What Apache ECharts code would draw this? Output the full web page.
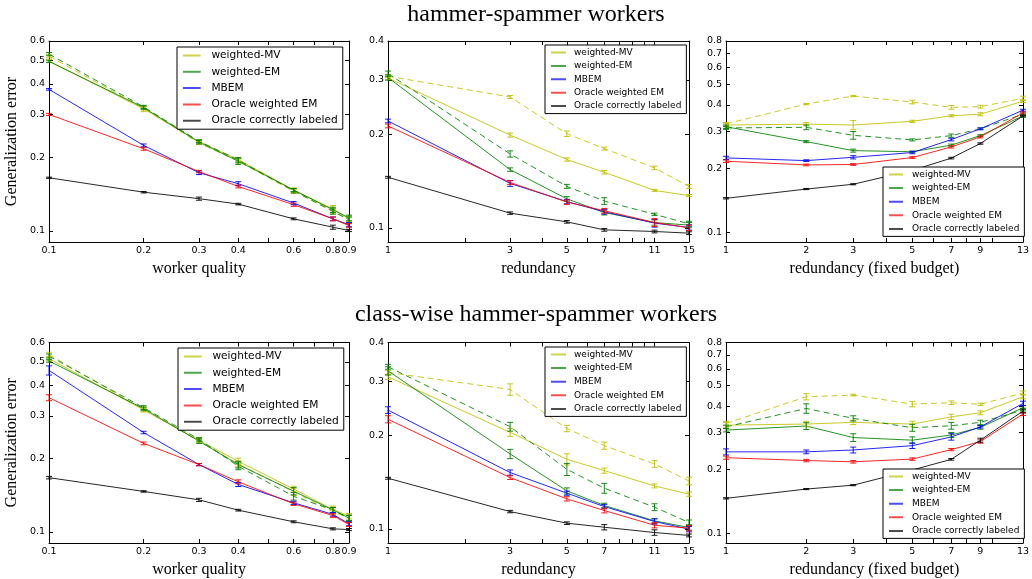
<!DOCTYPE html>
<html>
<head>
<meta charset="utf-8">
<script src="https://cdn.jsdelivr.net/npm/echarts@6/dist/echarts.min.js"></script>
<style>
html,body{margin:0;padding:0;background:#fff;}
#chart{width:1032px;height:579px;}
</style>
</head>
<body>
<div id="chart"></div>
<script>
// ---------------- categories / ticks ----------------
const xQuality = [0.1, 0.2, 0.3, 0.4, 0.6, 0.8, 0.9];
const xRedundancy = [1, 3, 5, 7, 11, 15];
const xBudget = [1, 2, 3, 5, 7, 9, 13];

const xTicksQuality = [0.1, 0.2, 0.3, 0.4, 0.5, 0.6, 0.7, 0.8, 0.9];
const xTicksRedundancy = [1, 2, 3, 4, 5, 6, 7, 8, 9, 10, 11, 15];
const xTicksBudget = [1, 2, 3, 4, 5, 6, 7, 8, 9, 10, 13];

const yLabelsQuality = [0.1, 0.2, 0.3, 0.4, 0.5, 0.6];
const yLabelsRedundancy = [0.1, 0.2, 0.3, 0.4];
const yLabelsBudget = [0.1, 0.2, 0.3, 0.4, 0.5, 0.6, 0.7, 0.8];

const legendNames = ['weighted-MV', 'weighted-EM', 'MBEM', 'Oracle weighted EM', 'Oracle correctly labeled'];
const rowTitles = ['hammer-spammer workers', 'class-wise hammer-spammer workers'];
const xAxisNames = ['worker quality', 'redundancy', 'redundancy (fixed budget)'];
const yAxisName = 'Generalization error';

// ---------------- hammer-spammer, worker quality ----------------
const hq_mv      = [0.497, 0.316, 0.232, 0.196, 0.147, 0.123, 0.112];
const hq_mv_err  = [0.006, 0.008, 0.004, 0.004, 0.003, 0.004, 0.003];
const hq_mvD     = [0.520, 0.318, 0.229, 0.193, 0.145, 0.121, 0.111];
const hq_mvD_err = [0.008, 0.005, 0.003, 0.004, 0.003, 0.003, 0.003];
const hq_em      = [0.495, 0.320, 0.231, 0.193, 0.147, 0.122, 0.113];
const hq_em_err  = [0.005, 0.005, 0.004, 0.006, 0.002, 0.003, 0.003];
const hq_emD     = [0.530, 0.322, 0.233, 0.195, 0.146, 0.120, 0.111];
const hq_emD_err = [0.008, 0.005, 0.003, 0.004, 0.003, 0.003, 0.003];
const hq_mbem    = [0.380, 0.224, 0.173, 0.156, 0.130, 0.112, 0.106];
const hq_mbem_err= [0.003, 0.003, 0.003, 0.003, 0.002, 0.002, 0.002];
const hq_owem    = [0.300, 0.217, 0.175, 0.152, 0.128, 0.112, 0.105];
const hq_owem_err= [0.003, 0.003, 0.002, 0.002, 0.002, 0.002, 0.002];
const hq_occ     = [0.165, 0.144, 0.1355, 0.1287, 0.112, 0.1035, 0.1003];
const hq_occ_err = [0.001, 0.001, 0.002, 0.001, 0.001, 0.002, 0.001];
const hq_base = 0.0936;

// ---------------- hammer-spammer, redundancy ----------------
const hr_mv      = [0.304, 0.199, 0.166, 0.151, 0.132, 0.127];
const hr_mv_err  = [0.003, 0.003, 0.002, 0.002, 0.001, 0.001];
const hr_mvD     = [0.308, 0.264, 0.201, 0.180, 0.156, 0.136];
const hr_mvD_err = [0.003, 0.003, 0.004, 0.002, 0.002, 0.002];
const hr_em      = [0.305, 0.154, 0.124, 0.112, 0.104, 0.102];
const hr_em_err  = [0.006, 0.002, 0.002, 0.002, 0.002, 0.002];
const hr_emD     = [0.314, 0.173, 0.136, 0.122, 0.1105, 0.103];
const hr_emD_err = [0.006, 0.004, 0.002, 0.003, 0.001, 0.002];
const hr_mbem    = [0.221, 0.139, 0.1215, 0.1127, 0.1035, 0.1003];
const hr_mbem_err= [0.003, 0.003, 0.002, 0.002, 0.003, 0.002];
const hr_owem    = [0.213, 0.140, 0.121, 0.1135, 0.104, 0.100];
const hr_owem_err= [0.003, 0.002, 0.002, 0.002, 0.003, 0.002];
const hr_occ     = [0.1455, 0.1115, 0.1045, 0.0985, 0.0973, 0.0961];
const hr_occ_err = [0.001, 0.001, 0.001, 0.001, 0.001, 0.001];
const hr_base = 0.0937;

// ---------------- hammer-spammer, fixed budget ----------------
const hb_mv      = [0.321, 0.324, 0.321, 0.334, 0.355, 0.361, 0.416];
const hb_mv_err  = [0.006, 0.006, 0.016, 0.004, 0.004, 0.006, 0.006];
const hb_mvD     = [0.325, 0.403, 0.440, 0.412, 0.389, 0.392, 0.429];
const hb_mvD_err = [0.005, 0.003, 0.003, 0.008, 0.008, 0.006, 0.010];
const hb_em      = [0.315, 0.268, 0.243, 0.240, 0.258, 0.286, 0.354];
const hb_em_err  = [0.006, 0.003, 0.004, 0.002, 0.003, 0.003, 0.005];
const hb_emD     = [0.311, 0.313, 0.287, 0.273, 0.286, 0.308, 0.361];
const hb_emD_err = [0.005, 0.008, 0.012, 0.003, 0.005, 0.003, 0.005];
const hb_mbem    = [0.2245, 0.218, 0.226, 0.238, 0.274, 0.308, 0.377];
const hb_mbem_err= [0.004, 0.002, 0.004, 0.003, 0.004, 0.003, 0.004];
const hb_owem    = [0.2165, 0.208, 0.209, 0.2254, 0.253, 0.282, 0.366];
const hb_owem_err= [0.003, 0.002, 0.002, 0.002, 0.003, 0.003, 0.004];
const hb_occ     = [0.1447, 0.160, 0.1686, 0.196, 0.224, 0.2625, 0.354];
const hb_occ_err = [0.001, 0.001, 0.001, 0.001, 0.002, 0.002, 0.003];
const hb_base = 0.094;

// ---------------- class-wise, worker quality ----------------
const cq_mv      = [0.515, 0.317, 0.2377, 0.195, 0.150, 0.1236, 0.116];
const cq_mv_err  = [0.010, 0.006, 0.004, 0.006, 0.004, 0.004, 0.003];
const cq_mvD     = [0.535, 0.318, 0.236, 0.190, 0.146, 0.121, 0.114];
const cq_mvD_err = [0.012, 0.006, 0.004, 0.005, 0.005, 0.003, 0.003];
const cq_em      = [0.504, 0.321, 0.236, 0.189, 0.147, 0.123, 0.114];
const cq_em_err  = [0.006, 0.005, 0.005, 0.006, 0.005, 0.003, 0.003];
const cq_emD     = [0.528, 0.324, 0.240, 0.186, 0.140, 0.123, 0.114];
const cq_emD_err = [0.010, 0.006, 0.004, 0.006, 0.005, 0.003, 0.003];
const cq_mbem    = [0.461, 0.256, 0.189, 0.1566, 0.1316, 0.118, 0.108];
const cq_mbem_err= [0.020, 0.003, 0.002, 0.003, 0.002, 0.002, 0.002];
const cq_owem    = [0.356, 0.231, 0.189, 0.1606, 0.1304, 0.1167, 0.1072];
const cq_owem_err= [0.010, 0.003, 0.002, 0.003, 0.002, 0.002, 0.002];
const cq_occ     = [0.167, 0.1466, 0.1354, 0.1228, 0.110, 0.1029, 0.1022];
const cq_occ_err = [0.002, 0.001, 0.002, 0.001, 0.001, 0.001, 0.001];
const cq_base = 0.0942;

// ---------------- class-wise, redundancy ----------------
const cr_mv      = [0.310, 0.205, 0.1678, 0.1542, 0.1376, 0.1294];
const cr_mv_err  = [0.006, 0.006, 0.007, 0.003, 0.002, 0.002];
const cr_mvD     = [0.320, 0.282, 0.211, 0.1857, 0.162, 0.1428];
const cr_mvD_err = [0.005, 0.012, 0.005, 0.005, 0.004, 0.004];
const cr_em      = [0.324, 0.1746, 0.1326, 0.119, 0.1061, 0.101];
const cr_em_err  = [0.010, 0.006, 0.003, 0.002, 0.002, 0.002];
const cr_emD     = [0.334, 0.2138, 0.1557, 0.1353, 0.1175, 0.1048];
const cr_emD_err = [0.006, 0.007, 0.007, 0.005, 0.003, 0.002];
const cr_mbem    = [0.242, 0.152, 0.1304, 0.118, 0.1056, 0.0998];
const cr_mbem_err= [0.006, 0.003, 0.002, 0.002, 0.002, 0.002];
const cr_owem    = [0.226, 0.1464, 0.125, 0.1146, 0.1027, 0.1005];
const cr_owem_err= [0.006, 0.002, 0.002, 0.002, 0.002, 0.002];
const cr_occ     = [0.1457, 0.1137, 0.1043, 0.1012, 0.0973, 0.0952];
const cr_occ_err = [0.001, 0.001, 0.001, 0.002, 0.002, 0.001];
const cr_base = 0.0938;

// ---------------- class-wise, fixed budget ----------------
const cb_mv      = [0.325, 0.329, 0.335, 0.329, 0.356, 0.372, 0.443];
const cb_mv_err  = [0.010, 0.010, 0.008, 0.010, 0.010, 0.008, 0.010];
const cb_mvD     = [0.331, 0.443, 0.451, 0.409, 0.415, 0.408, 0.462];
const cb_mvD_err = [0.008, 0.015, 0.004, 0.012, 0.008, 0.005, 0.010];
const cb_em      = [0.308, 0.322, 0.284, 0.276, 0.292, 0.317, 0.393];
const cb_em_err  = [0.006, 0.012, 0.012, 0.010, 0.008, 0.006, 0.010];
const cb_emD     = [0.319, 0.390, 0.350, 0.316, 0.323, 0.335, 0.383];
const cb_emD_err = [0.006, 0.020, 0.010, 0.012, 0.012, 0.008, 0.008];
const cb_mbem    = [0.243, 0.243, 0.248, 0.260, 0.286, 0.319, 0.412];
const cb_mbem_err= [0.008, 0.005, 0.008, 0.008, 0.010, 0.004, 0.010];
const cb_owem    = [0.228, 0.221, 0.218, 0.2246, 0.249, 0.272, 0.367];
const cb_owem_err= [0.004, 0.003, 0.003, 0.003, 0.003, 0.005, 0.006];
const cb_occ     = [0.1464, 0.162, 0.169, 0.1993, 0.224, 0.276, 0.379];
const cb_occ_err = [0.001, 0.001, 0.001, 0.001, 0.002, 0.006, 0.008];
const cb_base = 0.094;

// ---------------- panel assembly ----------------
const panels = [
  {x: xQuality, d: {mv:[hq_mv,hq_mv_err], mvD:[hq_mvD,hq_mvD_err], em:[hq_em,hq_em_err], emD:[hq_emD,hq_emD_err], mbem:[hq_mbem,hq_mbem_err], owem:[hq_owem,hq_owem_err], occ:[hq_occ,hq_occ_err]}, base: hq_base},
  {x: xRedundancy, d: {mv:[hr_mv,hr_mv_err], mvD:[hr_mvD,hr_mvD_err], em:[hr_em,hr_em_err], emD:[hr_emD,hr_emD_err], mbem:[hr_mbem,hr_mbem_err], owem:[hr_owem,hr_owem_err], occ:[hr_occ,hr_occ_err]}, base: hr_base},
  {x: xBudget, d: {mv:[hb_mv,hb_mv_err], mvD:[hb_mvD,hb_mvD_err], em:[hb_em,hb_em_err], emD:[hb_emD,hb_emD_err], mbem:[hb_mbem,hb_mbem_err], owem:[hb_owem,hb_owem_err], occ:[hb_occ,hb_occ_err]}, base: hb_base},
  {x: xQuality, d: {mv:[cq_mv,cq_mv_err], mvD:[cq_mvD,cq_mvD_err], em:[cq_em,cq_em_err], emD:[cq_emD,cq_emD_err], mbem:[cq_mbem,cq_mbem_err], owem:[cq_owem,cq_owem_err], occ:[cq_occ,cq_occ_err]}, base: cq_base},
  {x: xRedundancy, d: {mv:[cr_mv,cr_mv_err], mvD:[cr_mvD,cr_mvD_err], em:[cr_em,cr_em_err], emD:[cr_emD,cr_emD_err], mbem:[cr_mbem,cr_mbem_err], owem:[cr_owem,cr_owem_err], occ:[cr_occ,cr_occ_err]}, base: cr_base},
  {x: xBudget, d: {mv:[cb_mv,cb_mv_err], mvD:[cb_mvD,cb_mvD_err], em:[cb_em,cb_em_err], emD:[cb_emD,cb_emD_err], mbem:[cb_mbem,cb_mbem_err], owem:[cb_owem,cb_owem_err], occ:[cb_occ,cb_occ_err]}, base: cb_base}
];

// column settings (layout / style)
const colCfg = [
  {left: 49, width: 300, xmin: 0.1, xmax: 0.9, ymax: 0.6, xTicks: xTicksQuality, xLabels: xQuality, yLabels: yLabelsQuality},
  {left: 388, width: 301, xmin: 1, xmax: 15, ymax: 0.4, xTicks: xTicksRedundancy, xLabels: xRedundancy, yLabels: yLabelsRedundancy},
  {left: 726, width: 302, xmin: 1, xmax: 13, ymax: 0.8, xTicks: xTicksBudget, xLabels: xBudget, yLabels: yLabelsBudget}
];
const rowCfg = [{top: 41, height: 201}, {top: 342.5, height: 200.5}];
const YMIN = 0.09;

const lineDefs = [
  {key: 'mv',   name: 'weighted-MV',              color: '#bfbf00', dash: false},
  {key: 'mvD',  name: 'weighted-MV (no model)',   color: '#bfbf00', dash: true},
  {key: 'em',   name: 'weighted-EM',              color: '#008000', dash: false},
  {key: 'emD',  name: 'weighted-EM (no model)',   color: '#008000', dash: true},
  {key: 'mbem', name: 'MBEM',                     color: '#0000ff', dash: false},
  {key: 'owem', name: 'Oracle weighted EM',       color: '#ff0000', dash: false},
  {key: 'occ',  name: 'Oracle correctly labeled', color: '#000000', dash: false}
];

const legendCfg = [
  {left: 177, top: 47, fs: 10.6, gap: 5.3, icon: 'path://M0,0H17.7V2H0ZM23.4,0V2Z', iw: 23.4},
  {left: 545, top: 45, fs: 9, gap: 4.4, icon: 'path://M0,0H15V2H0ZM18,0V2Z', iw: 18},
  {left: 883, top: 167, fs: 9, gap: 4.6, icon: 'path://M0,0H14V2H0ZM18,0V2Z', iw: 18},
  {left: 178, top: 348, fs: 10.6, gap: 5.3, icon: 'path://M0,0H17.7V2H0ZM23.4,0V2Z', iw: 23.4},
  {left: 545, top: 347, fs: 9, gap: 4.6, icon: 'path://M0,0H15V2H0ZM18,0V2Z', iw: 18},
  {left: 883, top: 469, fs: 9, gap: 4.6, icon: 'path://M0,0H14V2H0ZM18,0V2Z', iw: 18}
];

function fmt(v) { return String(+Number(v).toPrecision(2)); }

function renderErr(params, api) {
  const x = api.value(0), lo = api.value(1), hi = api.value(2);
  const a = api.coord([x, lo]), b = api.coord([x, hi]);
  const st = {stroke: api.visual('color'), lineWidth: 1, opacity: 0.9};
  const cw = 3;
  return {type: 'group', children: [
    {type: 'line', shape: {x1: a[0], y1: a[1], x2: b[0], y2: b[1]}, style: st},
    {type: 'line', shape: {x1: a[0] - cw, y1: a[1], x2: a[0] + cw, y2: a[1]}, style: st},
    {type: 'line', shape: {x1: b[0] - cw, y1: b[1], x2: b[0] + cw, y2: b[1]}, style: st}
  ]};
}

const grids = [], xAxes = [], yAxes = [], series = [], legends = [];
const axisLineStyle = {color: '#000', width: 1};
const tickFont = {fontFamily: 'DejaVu Sans', fontSize: 9.5, color: '#000'};
const nameFont = {fontFamily: 'Liberation Serif', fontSize: 16, color: '#000'};

panels.forEach((p, i) => {
  const r = Math.floor(i / 3), c = i % 3;
  const cc = colCfg[c], rc = rowCfg[r];
  grids.push({left: cc.left, top: rc.top, width: cc.width, height: rc.height, show: false});
  const xBase = {
    gridIndex: i, type: 'log', logBase: 10, min: cc.xmin, max: cc.xmax,
    axisLine: {show: true, onZero: false, lineStyle: axisLineStyle},
    axisTick: {show: true, inside: true, length: 4, customValues: cc.xTicks, lineStyle: axisLineStyle},
    splitLine: {show: false}, minorTick: {show: false}, minorSplitLine: {show: false}
  };
  xAxes.push(Object.assign({}, xBase, {
    position: 'bottom',
    axisLabel: Object.assign({show: true, margin: 4, customValues: cc.xLabels, formatter: fmt}, tickFont),
    name: xAxisNames[c], nameLocation: 'middle', nameGap: 19, nameTextStyle: nameFont
  }));
  xAxes.push(Object.assign({}, xBase, {position: 'top', axisLabel: {show: false}}));
  const yBase = {
    gridIndex: i, type: 'log', logBase: 10, min: YMIN, max: cc.ymax,
    axisLine: {show: true, onZero: false, lineStyle: axisLineStyle},
    axisTick: {show: true, inside: true, length: 4, customValues: cc.yLabels, lineStyle: axisLineStyle},
    splitLine: {show: false}, minorTick: {show: false}, minorSplitLine: {show: false}
  };
  const yMain = Object.assign({}, yBase, {
    position: 'left',
    axisLabel: Object.assign({show: true, margin: 4, customValues: cc.yLabels, formatter: fmt}, tickFont)
  });
  if (c === 0) {
    Object.assign(yMain, {name: yAxisName, nameLocation: 'middle', nameGap: 29, nameRotate: 90, nameTextStyle: nameFont});
  }
  yAxes.push(yMain);
  yAxes.push(Object.assign({}, yBase, {position: 'right', axisLabel: {show: false}}));

  lineDefs.forEach(ld => {
    const [m, e] = p.d[ld.key];
    const s = {
      type: 'line', name: ld.name, xAxisIndex: 2 * i, yAxisIndex: 2 * i,
      data: p.x.map((x, k) => [x, m[k]]),
      symbol: 'none', showSymbol: false, smooth: false,
      itemStyle: {color: ld.color},
      lineStyle: {color: ld.color, width: 1, opacity: 0.85, type: ld.dash ? [6, 4] : 'solid'},
      emphasis: {disabled: true}, silent: true, z: 2
    };
    if (ld.key === 'occ') {
      s.markLine = {
        silent: true, symbol: ['none', 'none'], label: {show: false}, animation: false,
        lineStyle: {color: '#000', width: 1, type: [4.5, 2.5, 1.2, 2.5], opacity: 0.9},
        emphasis: {disabled: true},
        data: [{yAxis: p.base}]
      };
    }
    series.push(s);
    series.push({
      type: 'custom', name: ld.name + ' err', xAxisIndex: 2 * i, yAxisIndex: 2 * i,
      renderItem: renderErr, itemStyle: {color: ld.color},
      dimensions: ['x', 'lo', 'hi'], encode: {x: 0, y: [1, 2]},
      data: p.x.map((x, k) => [x, m[k] - e[k], m[k] + e[k]]),
      silent: true, z: 3
    });
  });

  const lc = legendCfg[i];
  legends.push({
    left: lc.left, top: lc.top, orient: 'vertical', data: legendNames,
    icon: lc.icon, itemWidth: lc.iw, itemHeight: 2, itemGap: lc.gap,
    padding: [3, 5, 3, 6], borderColor: '#000', borderWidth: 1, borderRadius: 0,
    backgroundColor: '#fff', selectedMode: false, z: 10,
    itemStyle: {borderWidth: 0, opacity: 0.7},
    textStyle: {fontFamily: 'DejaVu Sans', fontSize: lc.fs, color: '#000'}
  });
});

const chart = echarts.init(document.getElementById('chart'), null, {renderer: 'canvas'});
chart.setOption({
  backgroundColor: '#fff',
  animation: false,
  grid: grids,
  xAxis: xAxes,
  yAxis: yAxes,
  legend: legends,
  series: series,
  graphic: rowTitles.map((t, r) => ({
    type: 'text', x: 536, y: r === 0 ? 15 : 315, silent: true,
    style: {text: t, font: '24px "Liberation Serif"', fill: '#000', align: 'center', verticalAlign: 'middle'}
  }))
});
</script>
</body>
</html>
